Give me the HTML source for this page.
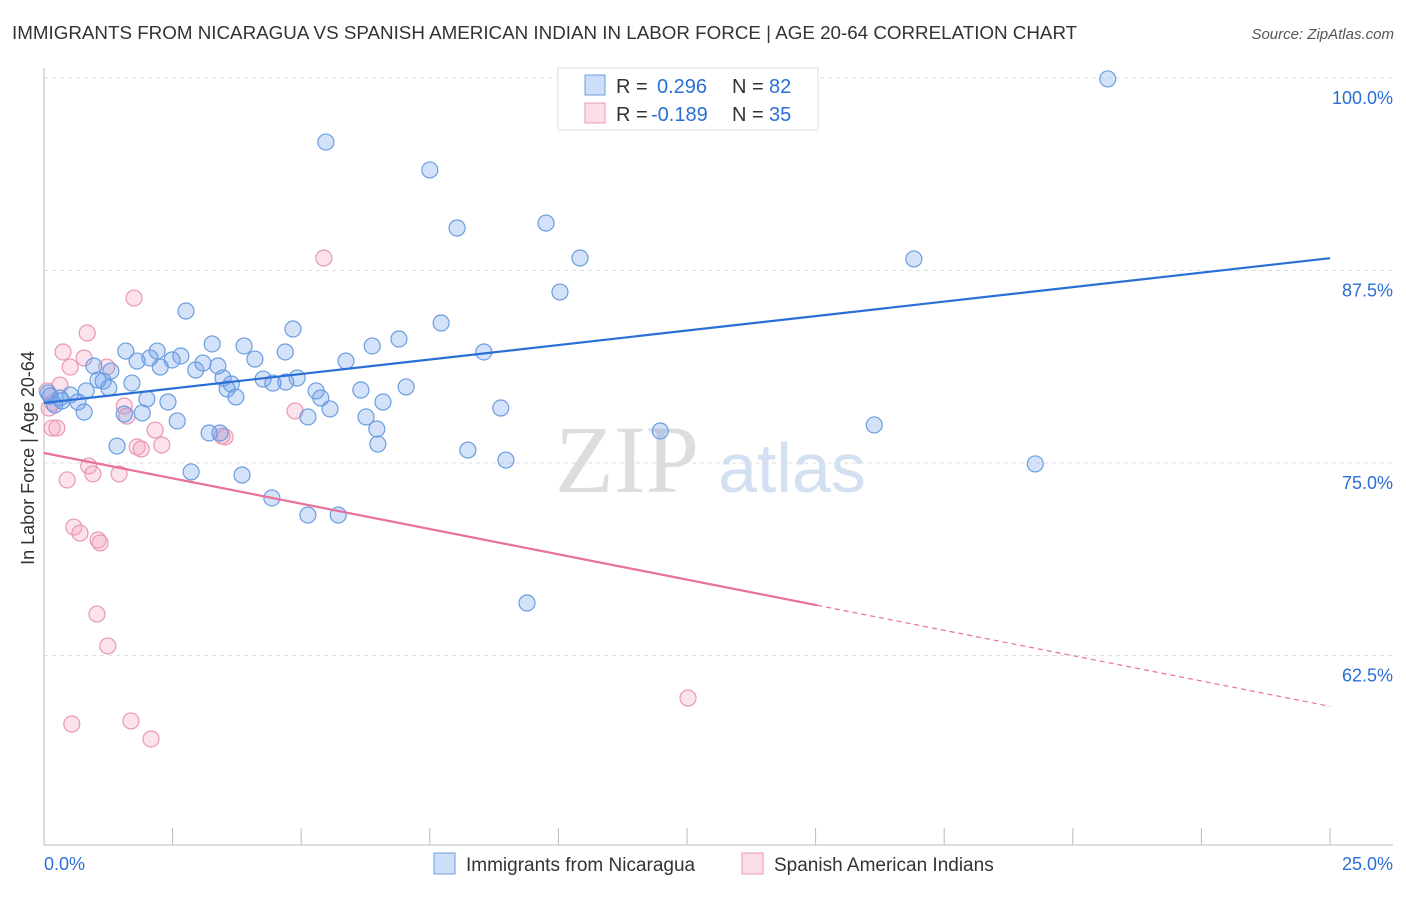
<!DOCTYPE html>
<html><head><meta charset="utf-8"><style>
body{margin:0;background:#fff;font-family:"Liberation Sans",sans-serif;}
svg text{font-family:"Liberation Sans",sans-serif;}
</style></head><body>
<svg id="chart" width="1406" height="892">
<text x="12" y="39" font-size="18.8" fill="#333">IMMIGRANTS FROM NICARAGUA VS SPANISH AMERICAN INDIAN IN LABOR FORCE | AGE 20-64 CORRELATION CHART</text>
<text x="1394" y="39" font-size="15" fill="#555" font-style="italic" text-anchor="end">Source: ZipAtlas.com</text>
<text x="34" y="458" font-size="18" fill="#333" text-anchor="middle" transform="rotate(-90 34 458)">In Labor Force | Age 20-64</text>
<text x="555" y="492" font-size="96" fill="#ddd" style="font-family:'Liberation Serif',serif">ZIP</text>
<text x="718" y="492" font-size="70" fill="#d3e0f2">atlas</text>
<g id="grid"></g><g id="axes"></g><g id="marks"></g>
<g>
<rect x="558" y="68" width="260" height="62" fill="#fff" stroke="#ddd"/>
<rect x="585" y="75" width="20" height="20" fill="rgba(110,160,235,0.35)" stroke="#6a9de0"/>
<text x="616" y="93" font-size="20" fill="#333">R =</text>
<text x="657" y="93" font-size="20" fill="#2a6fd6">0.296</text>
<text x="732" y="93" font-size="20" fill="#333">N =</text>
<text x="769" y="93" font-size="20" fill="#2a6fd6">82</text>
<rect x="585" y="103" width="20" height="20" fill="rgba(245,160,190,0.35)" stroke="#e898b4"/>
<text x="616" y="121" font-size="20" fill="#333">R =</text>
<text x="651" y="121" font-size="20" fill="#2a6fd6">-0.189</text>
<text x="732" y="121" font-size="20" fill="#333">N =</text>
<text x="769" y="121" font-size="20" fill="#2a6fd6">35</text>
</g>
<g>
<rect x="434" y="853" width="21" height="21" fill="rgba(110,160,235,0.35)" stroke="#6a9de0"/>
<text x="466" y="871" font-size="19" fill="#333">Immigrants from Nicaragua</text>
<rect x="742" y="853" width="21" height="21" fill="rgba(245,160,190,0.35)" stroke="#e898b4"/>
<text x="774" y="871" font-size="19" fill="#333">Spanish American Indians</text>
</g>
</svg>
<script>
const blueX=[20.68,5.48,7.50,8.03,9.76,10.42,16.91,10.03,2.76,7.72,4.84,6.90,6.38,4.69,3.27,3.89,1.59,2.20,2.66,2.06,1.81,2.49,3.09,3.38,2.26,2.95,4.10,5.87,0.97,1.30,1.05,1.71,1.15,1.26,0.82,0.51,0.31,0.12,0.21,0.66,0.78,2.00,2.41,1.91,1.56,3.56,3.64,3.73,4.26,4.45,4.70,4.92,5.29,5.38,5.56,5.13,6.16,6.59,7.04,6.26,6.47,6.49,8.88,2.59,3.21,3.42,11.98,16.14,1.42,8.24,8.98,19.27,2.86,3.85,4.43,5.13,5.72,9.39,8.55,3.48,0.08,0.35];
const blueY=[99.94,95.84,94.03,90.26,90.58,88.31,88.25,86.10,84.87,84.09,83.70,83.05,82.60,82.21,82.73,82.60,82.27,82.27,81.95,81.82,81.62,81.69,81.49,81.30,81.23,81.04,81.75,81.62,81.30,80.97,80.39,80.19,80.32,79.87,79.68,79.42,79.22,79.35,78.77,78.96,78.31,79.16,78.96,78.25,78.18,79.81,80.13,79.29,80.45,80.19,80.26,80.52,79.68,79.22,78.51,77.99,79.74,78.96,79.94,77.99,77.21,76.23,78.57,77.73,76.95,76.95,77.08,77.47,76.10,75.84,75.19,74.94,74.42,74.22,72.73,71.62,71.62,65.91,82.21,80.52,79.55,79.03];
const pinkX=[5.44,1.75,0.84,0.37,0.78,0.51,1.22,0.31,0.06,0.17,0.10,1.56,1.61,0.16,0.25,2.16,1.81,1.89,2.29,3.46,3.52,4.88,0.87,0.95,1.46,0.45,0.58,0.70,1.05,1.09,1.03,1.24,0.54,1.69,2.08,12.52];
const pinkY=[88.31,85.71,83.44,82.21,81.82,81.23,81.23,80.06,79.68,78.90,78.57,78.70,78.05,77.27,77.27,77.14,76.04,75.91,76.17,76.75,76.69,78.38,74.81,74.29,74.29,73.90,70.84,70.45,70.00,69.81,65.19,63.12,58.05,58.25,57.08,59.74];
const blueTrend=[78.9,88.3];
const pinkTrend=[75.65,59.2];
const pinkSolidEnd=15.03;
const yTicks=[100,87.5,75,62.5];
const yTickLabels=["100.0%","87.5%","75.0%","62.5%"];
const xTicks=[0,2.5,5,7.5,10,12.5,15,17.5,20,22.5,25];

const NS="http://www.w3.org/2000/svg";
const sx=v=>44+v*51.44;
const sy=v=>463-(v-75)*15.4;
function mk(tag,attrs,parent){const e=document.createElementNS(NS,tag);for(const k in attrs)e.setAttribute(k,attrs[k]);document.getElementById(parent).appendChild(e);return e;}
yTicks.forEach((t,i)=>{
  const g=mk('line',{x1:44,x2:1393,y1:sy(t),y2:sy(t),stroke:'#ddd','stroke-dasharray':'4,4'},'grid');
  
  
  const l=mk('text',{x:1393,y:sy(t)+26,'font-size':18,fill:'#2a6fd6','text-anchor':'end'},'grid');
  l.textContent=yTickLabels[i];
  
  
});
const ax=mk('line',{x1:44,x2:1393,y1:845,y2:845,stroke:'#bbb'},'axes');


const ay=mk('line',{x1:44,x2:44,y1:68,y2:845,stroke:'#bbb'},'axes');


xTicks.forEach(t=>{
  const k=mk('line',{x1:sx(t),x2:sx(t),y1:828,y2:845,stroke:'#bbb'},'axes');
  
  
});
const xl0=mk('text',{x:44,y:870,'font-size':18,fill:'#2a6fd6'},'axes');xl0.textContent="0.0%";


const xl1=mk('text',{x:1393,y:870,'font-size':18,fill:'#2a6fd6','text-anchor':'end'},'axes');xl1.textContent="25.0%";


pinkX.forEach((x,i)=>{
  const c=mk('circle',{cx:sx(x),cy:sy(pinkY[i]),r:8,fill:'rgba(245,160,190,0.3)',stroke:'#e898b4','stroke-width':1.2},'marks');
  
  
});
blueX.forEach((x,i)=>{
  const c=mk('circle',{cx:sx(x),cy:sy(blueY[i]),r:8,fill:'rgba(110,160,235,0.3)',stroke:'#6a9de0','stroke-width':1.2},'marks');
  
  
});
const bt=mk('line',{x1:sx(0),y1:sy(blueTrend[0]),x2:sx(25),y2:sy(blueTrend[1]),stroke:'#2a6fd6','stroke-width':2.2},'marks');


const pAt=x=>pinkTrend[0]+(pinkTrend[1]-pinkTrend[0])*x/25;
const pt=mk('line',{x1:sx(0),y1:sy(pinkTrend[0]),x2:sx(pinkSolidEnd),y2:sy(pAt(pinkSolidEnd)),stroke:'#e8709a','stroke-width':2.2},'marks');


const pd=mk('line',{x1:sx(pinkSolidEnd),y1:sy(pAt(pinkSolidEnd)),x2:sx(25),y2:sy(pinkTrend[1]),stroke:'#e8709a','stroke-width':1.2,'stroke-dasharray':'5,4'},'marks');


</script>
</body></html>
